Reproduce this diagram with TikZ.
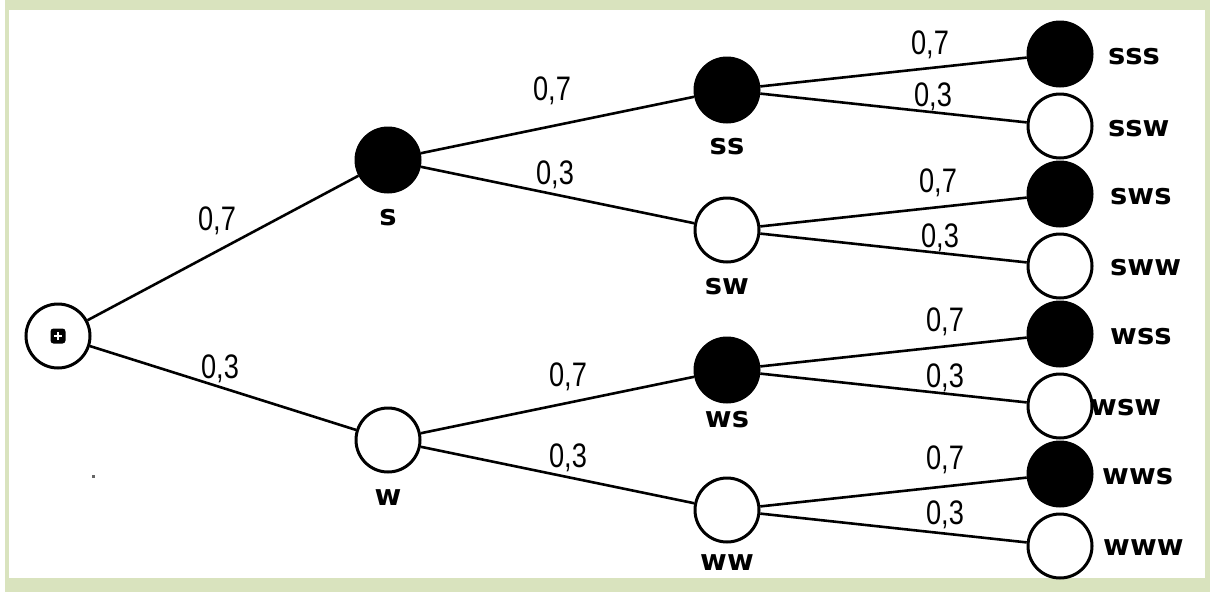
\documentclass[tikz,border=0pt]{standalone}
\usepackage{fontspec}
\usepackage{tikz}
\newfontfamily\probfont[FakeStretch=0.8]{Liberation Sans}
\newfontfamily\namefont{DejaVu Sans}
\definecolor{framegreen}{HTML}{D9E3BE}

\begin{document}
\begin{tikzpicture}[x=1pt,y=-1pt,
  dot/.style={circle,draw,line width=3pt,minimum size=64pt,inner sep=0pt},
  fulldot/.style={dot,fill=black},
  emptydot/.style={dot,fill=white},
  prob/.style={font=\probfont\fontsize{34}{34}\selectfont,inner sep=0pt},
  tag/.style={font=\namefont\bfseries\fontsize{29}{29}\selectfont,inner sep=0pt},
  branch/.style={line width=2.6pt}]
\useasboundingbox (0,0) rectangle (1210,592);
% Frame
\fill[framegreen] (5,0) rectangle (1210,592);
\fill[white] (9,10) rectangle (1205,578);

% Root
\node[emptydot] (root) at (58,336) {};
\node[fill=black,rounded corners=3pt,minimum size=15pt,inner sep=0pt] (mark) at (root) {};
\draw[white,line width=1.2pt] ([yshift=-4pt]mark.center) -- ([yshift=4pt]mark.center)
  ([xshift=-4pt]mark.center) -- ([xshift=4pt]mark.center);

% First level
\node[fulldot] (s) at (388,160) {};
\node[emptydot] (w) at (388,440) {};
\node[tag] (sname) at (388,218) {s};
\node[tag] (wname) at (388,498) {w};

% Second level
\node[fulldot] (ss) at (727,90) {};
\node[emptydot] (sw) at (727,230) {};
\node[fulldot] (ws) at (727,370) {};
\node[emptydot] (ww) at (727,510) {};
\node[tag] (ssname) at (727,147) {ss};
\node[tag] (swname) at (727,287) {sw};
\node[tag] (wsname) at (727,420) {ws};
\node[tag] (wwname) at (727,563) {ww};

% Third level
\node[fulldot] (sss) at (1060,54) {};
\node[emptydot] (ssw) at (1060,126) {};
\node[fulldot] (sws) at (1060,194) {};
\node[emptydot] (sww) at (1060,266) {};
\node[fulldot] (wss) at (1060,334) {};
\node[emptydot] (wsw) at (1060,406) {};
\node[fulldot] (wws) at (1060,474) {};
\node[emptydot] (www) at (1060,546) {};
\node[tag,anchor=west] (sssname) at (1108,57) {sss};
\node[tag,anchor=west] (sswname) at (1108,129) {ssw};
\node[tag,anchor=west] (swsname) at (1110,197) {sws};
\node[tag,anchor=west] (swwname) at (1110,268) {sww};
\node[tag,anchor=west] (wssname) at (1110,337) {wss};
\node[tag,anchor=west] (wswname) at (1090,408) {wsw};
\node[tag,anchor=west] (wwsname) at (1102,477) {wws};
\node[tag,anchor=west] (wwwname) at (1103,548) {www};

% Branches
\draw[branch] (root) -- (s);
\draw[branch] (root) -- (w);
\draw[branch] (s) -- (ss);
\draw[branch] (s) -- (sw);
\draw[branch] (w) -- (ws);
\draw[branch] (w) -- (ww);
\draw[branch] (ss) -- (sss);
\draw[branch] (ss) -- (ssw);
\draw[branch] (sw) -- (sws);
\draw[branch] (sw) -- (sww);
\draw[branch] (ws) -- (wss);
\draw[branch] (ws) -- (wsw);
\draw[branch] (ww) -- (wws);
\draw[branch] (ww) -- (www);

% Probabilities
\node[prob] (p1) at (217,221) {0,7};
\node[prob] (p2) at (220,369) {0,3};
\node[prob] (p3) at (552,91) {0,7};
\node[prob] (p4) at (555,175) {0,3};
\node[prob] (p5) at (568,377) {0,7};
\node[prob] (p6) at (568,458) {0,3};
\node[prob] (p7) at (930,45) {0,7};
\node[prob] (p8) at (933,97) {0,3};
\node[prob] (p9) at (938,183) {0,7};
\node[prob] (p10) at (940,238) {0,3};
\node[prob] (p11) at (945,322) {0,7};
\node[prob] (p12) at (945,378) {0,3};
\node[prob] (p13) at (945,460) {0,7};
\node[prob] (p14) at (945,515) {0,3};

% Stray dot
\fill[black!60] (92,475) rectangle (95,478);
\end{tikzpicture}
\end{document}
